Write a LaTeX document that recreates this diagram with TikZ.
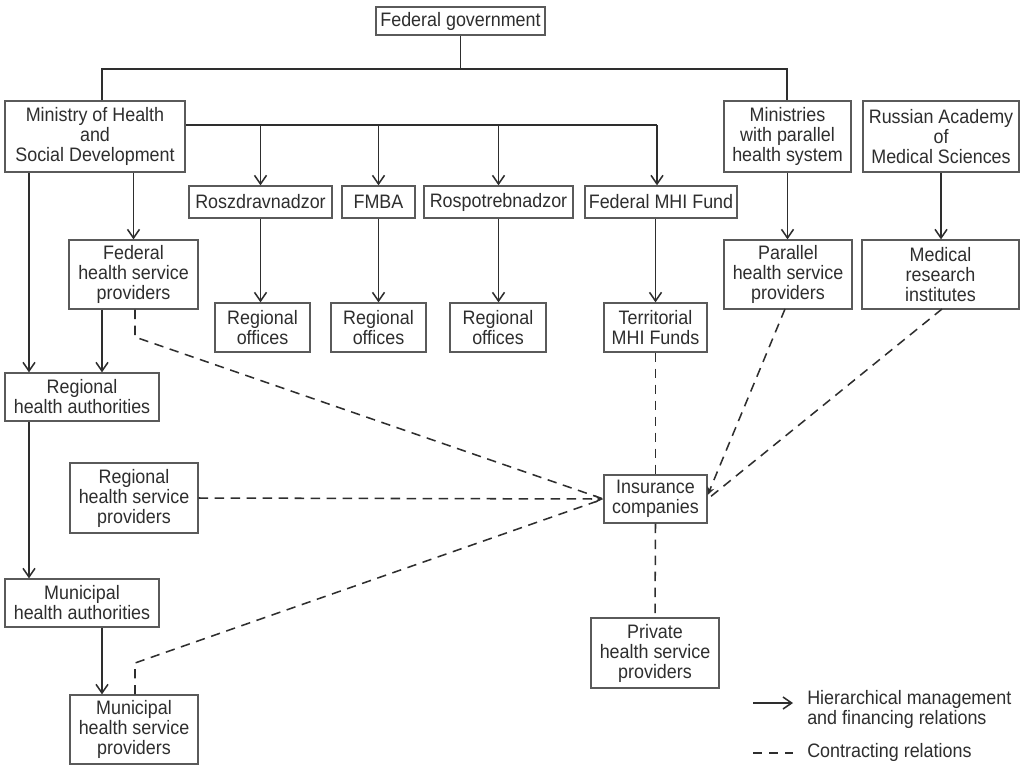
\documentclass[tikz,border=0pt]{standalone}
\usepackage{fontspec}
\setmainfont[FakeStretch=0.92]{Liberation Sans}
\usetikzlibrary{arrows.meta}
\definecolor{ink}{HTML}{2E2E2E}
\definecolor{frame}{HTML}{5A5A5A}
\tikzset{
  box/.style={draw=frame, line width=1pt, inner sep=0pt, align=center, text=ink,
    font=\fontsize{14.6}{15}\selectfont},
  arr/.style={draw=ink, line width=1.15pt, -{Straight Barb[length=6.5pt,width=9pt]}},
  ln/.style={draw=ink, line width=1.15pt},
  dsh/.style={draw=ink, line width=1.15pt, dash pattern=on 7pt off 5pt},
  dsharr/.style={dsh, -{Stealth[length=6pt,width=5.5pt]}},
  lgtext/.style={text=ink, inner sep=0pt, align=left, anchor=west,
    font=\fontsize{14.6}{15}\selectfont},
}
\newcommand\bx[6]{%
  \node[box, minimum width={(#4-#2)*0.75pt}, minimum height={(#5-#3)*0.75pt}]
    (#1) at ({(#2+#4)/2},{(#3+#5)/2}) {#6};}
\begin{document}
\begin{tikzpicture}[x=0.75pt,y=-0.75pt]
\useasboundingbox (0,0) rectangle (1020,765);
\fill[white] (0,0) rectangle (1020,765);

\bx{fg}{376}{7}{545}{35}{Federal government}
\bx{mhsd}{5}{101}{185}{172}{Ministry of Health\\and\\Social Development}
\bx{mps}{724}{101}{851}{172}{Ministries\\with parallel\\health system}
\bx{rams}{863}{101}{1019}{172}{Russian Academy\\of\\Medical Sciences}
\bx{rzn}{189}{186}{332}{218}{Roszdravnadzor}
\bx{fmba}{342}{186}{415}{218}{FMBA}
\bx{rpn}{424}{186}{573}{218}{Rospotrebnadzor}
\bx{fmhi}{585}{186}{737}{218}{Federal MHI Fund}
\bx{ro1}{215}{303}{310}{352}{Regional\\offices}
\bx{ro2}{331}{303}{426}{352}{Regional\\offices}
\bx{ro3}{450}{303}{546}{352}{Regional\\offices}
\bx{tmhi}{604}{303}{707}{352}{Territorial\\MHI Funds}
\bx{fhsp}{69}{240}{198}{309}{Federal\\health service\\providers}
\bx{phsp}{724}{240}{852}{309}{Parallel\\health service\\providers}
\bx{mri}{862}{240}{1019}{309}{Medical\\research\\institutes}
\bx{rha}{5}{373}{159}{421}{Regional\\health authorities}
\bx{rhsp}{70}{463}{198}{533}{Regional\\health service\\providers}
\bx{mha}{5}{579}{159}{627}{Municipal\\health authorities}
\bx{mhsp}{70}{695}{198}{764}{Municipal\\health service\\providers}
\bx{ins}{604}{475}{707}{523}{Insurance\\companies}
\bx{priv}{591}{618}{719}{688}{Private\\health service\\providers}

% top level
\coordinate (tl) at (102,69);
\coordinate (tr) at (787,69);
\draw[ln] (fg.south) -- (fg.south |- tl);
\draw[ln] (tl |- mhsd.north) -- (tl) -- (tr) -- (tr |- mps.north);

% ministry bar
\coordinate (mb) at (657,125);
\draw[ln] (mhsd.north east |- mb) -- (mb);
\draw[arr] (mb) -- (mb |- fmhi.north);
\draw[arr] (rzn.north |- mb) -- (rzn.north);
\draw[arr] (fmba.north |- mb) -- (fmba.north);
\draw[arr] (rpn.north |- mb) -- (rpn.north);

\draw[arr] (rzn.south) -- (rzn.south |- ro1.north);
\draw[arr] (fmba.south) -- (fmba.south |- ro2.north);
\draw[arr] (rpn.south) -- (rpn.south |- ro3.north);
\draw[arr] (tmhi.north |- fmhi.south) -- (tmhi.north);

\draw[arr] (fhsp.north |- mhsd.south) -- (fhsp.north);
\draw[arr] (mps.south) -- (mps.south |- phsp.north);
\draw[arr] (rams.south) -- (rams.south |- mri.north);

% left column
\coordinate (lx) at (29,0);
\coordinate (fx) at (102,0);
\draw[arr] (lx |- mhsd.south) -- (lx |- rha.north);
\draw[arr] (fx |- fhsp.south) -- (fx |- rha.north);
\draw[arr] (lx |- rha.south) -- (lx |- mha.north);
\draw[arr] (fx |- mha.south) -- (fx |- mhsp.north);

% contracting relations
\coordinate (fk) at (135,337);
\coordinate (mk) at (135,663);
\draw[dsh] (fk |- fhsp.south) -- (fk) -- (ins.west);
\draw[dsharr] (rhsp.east) -- (ins.west);
\draw[dsh] (mk |- mhsp.north) -- (mk) -- (ins.west);
\draw[dsh] (tmhi.south) -- (ins.north);
\draw[dsh] (ins.south) -- (priv.north);
\coordinate (pk) at (785,309);
\coordinate (rk) at (942,309);
\draw[dsh] (rk) -- (ins.east);
\draw[dsharr] (pk) -- ([yshift=3pt]ins.east);

% legend
\coordinate (la1) at (753,703);
\coordinate (la2) at (793,703);
\coordinate (lb1) at (753,753);
\coordinate (lb2) at (793,753);
\draw[arr] (la1) -- (la2);
\draw[dsh] (lb1) -- (lb2);
\node[lgtext] (lt1) at (807,709) {Hierarchical management\\and financing relations};
\node[lgtext] (lt2) at (807,752) {Contracting relations};
\end{tikzpicture}
\end{document}
